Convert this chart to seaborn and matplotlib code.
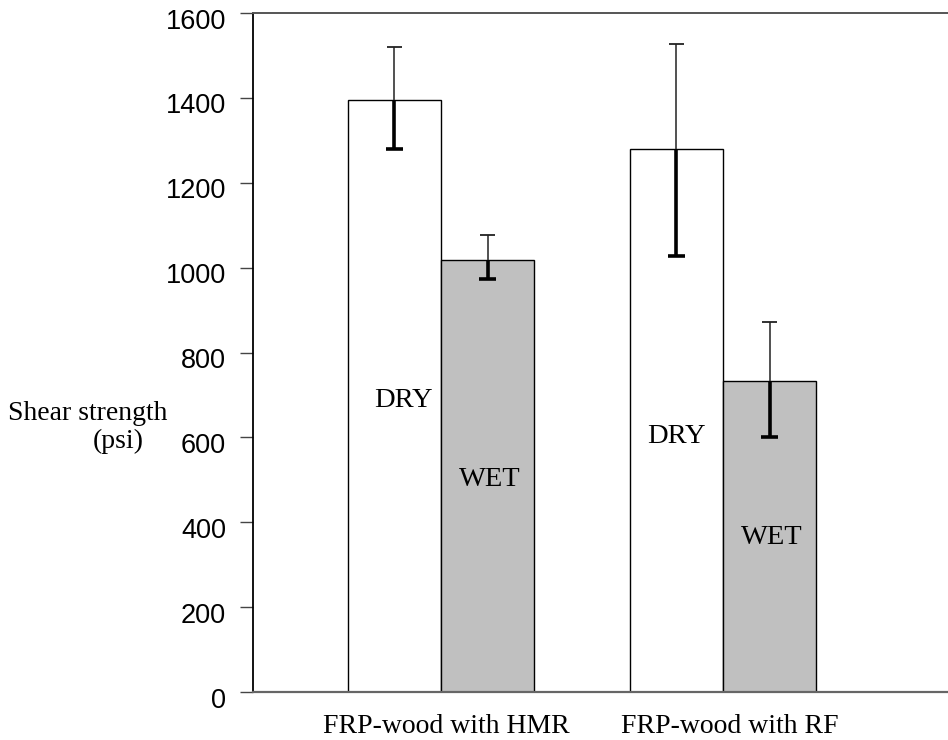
import matplotlib
matplotlib.use("Agg")
import matplotlib.pyplot as plt
import matplotlib.transforms as mtransforms
import seaborn as sns
import pandas as pd

# ---- data ----
groups = ["FRP-wood with HMR", "FRP-wood with RF"]
conditions = ["DRY", "WET"]
dry_values = [1395, 1280]
wet_values = [1018, 733]
dry_err_low = [116, 253]
dry_err_high = [125, 247]
wet_err_low = [45, 132]
wet_err_high = [59, 139]
# label heights (psi) for DRY/WET annotations inside bars
dry_label_y = [688, 601]
wet_label_y = [500, 365]
y_ticks = [0, 200, 400, 600, 800, 1000, 1200, 1400, 1600]

df = pd.DataFrame({
    "group": groups * 2,
    "condition": ["DRY"] * len(groups) + ["WET"] * len(groups),
    "value": dry_values + wet_values,
})

sns.set_style("white")
plt.rcParams["font.family"] = ["Liberation Sans", "DejaVu Sans"]
plt.rcParams["text.color"] = "black"
plt.rcParams["xtick.color"] = "black"
plt.rcParams["ytick.color"] = "black"

fig = plt.figure(figsize=(9.48, 7.4), dpi=100)
ax = fig.add_axes([253 / 948, 1 - 692 / 740, 1 - 253 / 948, (692 - 13) / 740])

sns.barplot(data=df, x="group", y="value", hue="condition",
            hue_order=conditions, order=groups,
            palette={"DRY": "white", "WET": "#c0c0c0"},
            edgecolor="black", linewidth=1.0, width=0.66,
            errorbar=None, legend=False, ax=ax, zorder=2)

errs = {"DRY": (dry_values, dry_err_low, dry_err_high),
        "WET": (wet_values, wet_err_low, wet_err_high)}
cap_lo = 0.029
cap_hi = 0.026
for cont, cond in zip(ax.containers, conditions):
    vals, lo, hi = errs[cond]
    for bar, v, l, h in zip(cont, vals, lo, hi):
        xc = bar.get_x() + bar.get_width() / 2
        # lower half: thick
        ax.plot([xc, xc], [v - l, v], color="black", lw=2.6, zorder=3,
                solid_capstyle="butt")
        ax.plot([xc - cap_lo, xc + cap_lo], [v - l, v - l], color="black",
                lw=2.6, zorder=3, solid_capstyle="butt")
        # upper half: thin
        ax.plot([xc, xc], [v, v + h], color="#333333", lw=1.2, zorder=3,
                solid_capstyle="butt")
        ax.plot([xc - cap_hi, xc + cap_hi], [v + h, v + h], color="#222222",
                lw=1.3, zorder=3, solid_capstyle="butt")

# DRY / WET labels
serif = ["Liberation Serif", "DejaVu Serif"]
for cont, cond, ys in zip(ax.containers, conditions, [dry_label_y, wet_label_y]):
    for i, (bar, yv) in enumerate(zip(cont, ys)):
        xc = bar.get_x() + bar.get_width() / 2
        dx = 0.03 if (cond == "DRY" and i == 0) else (0.008 if cond == "WET" else 0.0)
        ax.text(xc + dx, yv, cond, ha="center", va="center", fontsize=20.5,
                family=serif, color="black", zorder=4)

ax.set_xlim(-0.6667, 1.798)
ax.set_ylim(0, 1600)
ax.set_yticks(y_ticks)
ax.set_yticklabels([str(t) for t in y_ticks], fontsize=19.5)
ax.tick_params(axis="y", direction="out", length=9.4, width=1.0,
               color="#444444", labelcolor="black", pad=10, left=True)
shift = mtransforms.ScaledTranslation(0, -4 / 72, fig.dpi_scale_trans)
for lab in ax.get_yticklabels():
    lab.set_transform(lab.get_transform() + shift)
ax.set_xticks([0.02, 1.025])
ax.set_xticklabels(groups, fontsize=20, family=serif)
ax.tick_params(axis="x", length=0, pad=16, labelcolor="black")
ax.set_xlabel("")
ax.set_ylabel("")

for side in ["left", "top", "bottom"]:
    ax.spines[side].set_visible(True)
ax.spines["right"].set_visible(False)
ax.spines["left"].set_color("black")
ax.spines["left"].set_linewidth(1.3)
ax.spines["top"].set_color("#555555")
ax.spines["top"].set_linewidth(1.4)
ax.spines["bottom"].set_color("#666666")
ax.spines["bottom"].set_linewidth(1.6)
ax.grid(False)

fig.text(88 / 948, 1 - 413 / 740, "Shear strength", ha="center", va="center",
         fontsize=20, family=serif, color="black")
fig.text(118 / 948, 1 - 441 / 740, "(psi)", ha="center", va="center",
         fontsize=20, family=serif, color="black")

fig.savefig("out.png", dpi=100, facecolor="white")
